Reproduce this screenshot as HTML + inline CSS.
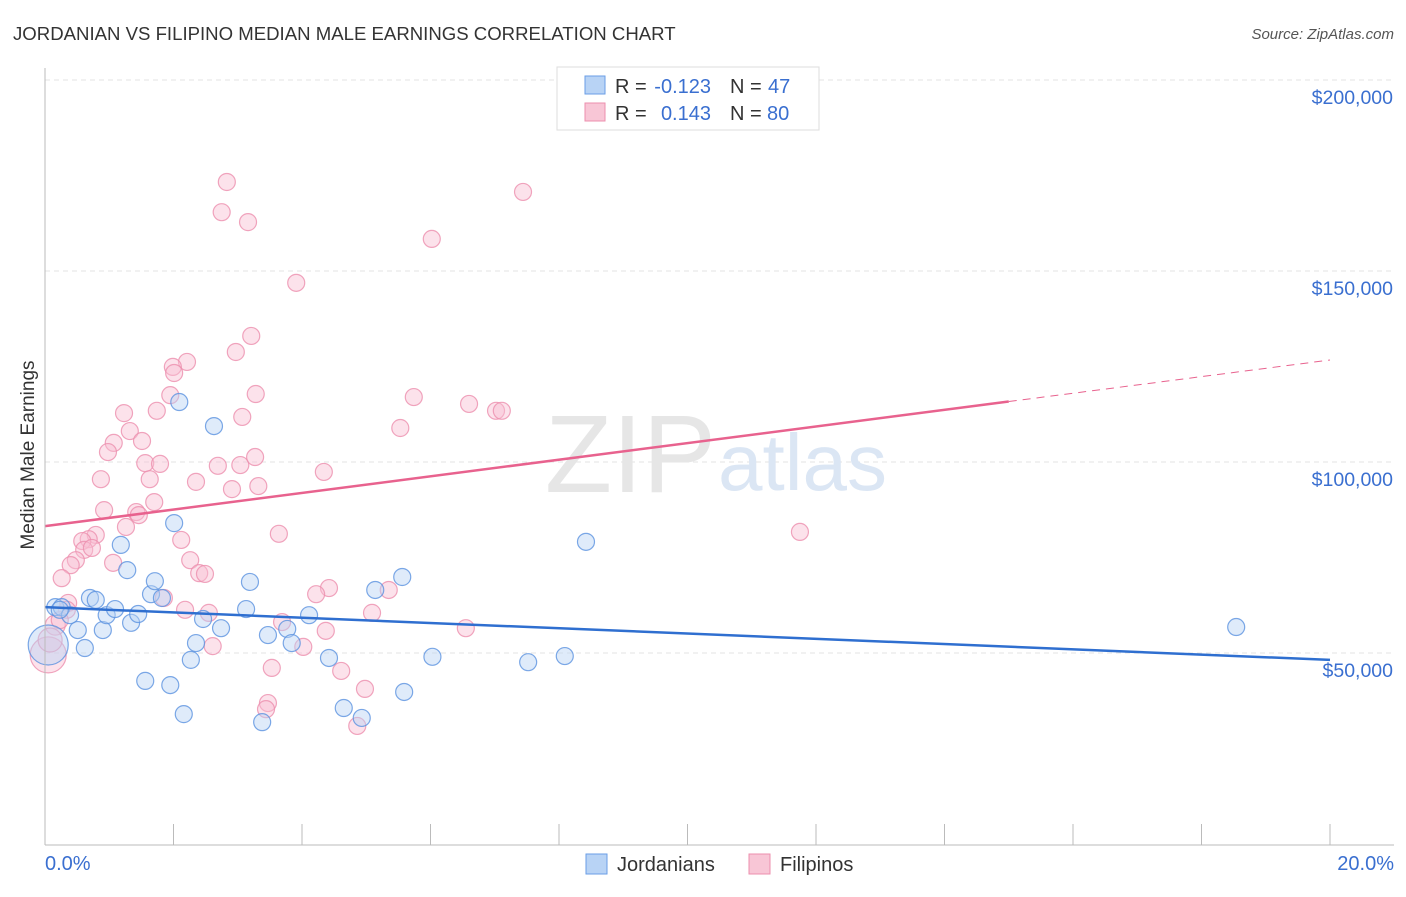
<!DOCTYPE html>
<html><head><meta charset="utf-8">
<style>
body{margin:0;background:#fff;font-family:"Liberation Sans",sans-serif;}
svg text{font-family:"Liberation Sans",sans-serif;}
</style></head>
<body>
<svg id="c" width="1406" height="892">
<text x="13" y="40" font-size="18.6" fill="#333">JORDANIAN VS FILIPINO MEDIAN MALE EARNINGS CORRELATION CHART</text>
<text x="1394" y="39" font-size="15" fill="#555" text-anchor="end" font-style="italic">Source: ZipAtlas.com</text>
<g id="grid"></g>
<text x="716" y="492" font-size="110" fill="#e6e6e6" text-anchor="end" font-family="Liberation Serif">ZIP</text>
<text x="718" y="490" font-size="80" fill="#dbe6f4">atlas</text>
<g id="pts"></g>
<g id="trend"></g>
<g id="axes"></g>
<text x="34" y="455" font-size="19" fill="#333" text-anchor="middle" transform="rotate(-90 34 455)">Median Male Earnings</text>
<text x="45" y="870" font-size="20" fill="#3a6fd0">0.0%</text>
<text x="1394" y="870" font-size="20" fill="#3a6fd0" text-anchor="end">20.0%</text>
<g>
<rect x="557" y="67" width="262" height="63" fill="#fff" stroke="#ddd"/>
<rect x="585" y="76" width="20" height="18" fill="#b8d3f5" stroke="#6a9ee6"/>
<rect x="585" y="103" width="20" height="18" fill="#f8c6d6" stroke="#ec8fae"/>
<text x="615" y="93" font-size="20" fill="#333">R =</text>
<text x="711" y="93" font-size="20" fill="#3a6fd0" text-anchor="end">-0.123</text>
<text x="730" y="93" font-size="20" fill="#333">N =</text>
<text x="768" y="93" font-size="20" fill="#3a6fd0">47</text>
<text x="615" y="120" font-size="20" fill="#333">R =</text>
<text x="711" y="120" font-size="20" fill="#3a6fd0" text-anchor="end">0.143</text>
<text x="730" y="120" font-size="20" fill="#333">N =</text>
<text x="767" y="120" font-size="20" fill="#3a6fd0">80</text>
</g>
<g>
<rect x="586" y="854" width="21" height="20" fill="#b8d3f5" stroke="#6a9ee6"/>
<text x="617" y="871" font-size="20" fill="#333">Jordanians</text>
<rect x="749" y="854" width="21" height="20" fill="#f8c6d6" stroke="#ec8fae"/>
<text x="780" y="871" font-size="20" fill="#333">Filipinos</text>
</g>
</svg>
<script>
const yTicks=[50000,100000,150000,200000];
const yTickLabels=["$50,000","$100,000","$150,000","$200,000"];
const xTicks=[0,2,4,6,8,10,12,14,16,18,20];
const jorX=[0.16,0.26,0.39,0.51,0.62,0.70,0.79,0.90,0.96,1.09,1.18,1.28,1.34,1.45,1.56,1.65,1.71,1.82,1.95,2.01,2.09,2.16,2.27,2.35,2.46,2.63,2.74,3.13,3.19,3.38,3.47,3.77,3.84,4.11,4.42,4.65,4.93,5.14,5.56,5.59,6.03,7.52,8.09,8.42,18.54,0.05,0.23];
const jorY=[62.0,62.0,59.9,56.0,51.3,64.4,63.9,56.0,59.9,61.5,78.3,71.7,57.9,60.2,42.7,65.4,68.8,64.4,41.6,84.0,115.7,34.0,48.2,52.6,58.9,109.4,56.5,61.5,68.6,31.9,54.7,56.3,52.6,59.9,48.7,35.6,33.0,66.5,69.9,39.8,49.0,47.6,49.2,79.1,56.8,52.1,61.3];
const jorR=[8.5,8.5,8.5,8.5,8.5,8.5,8.5,8.5,8.5,8.5,8.5,8.5,8.5,8.5,8.5,8.5,8.5,8.5,8.5,8.5,8.5,8.5,8.5,8.5,8.5,8.5,8.5,8.5,8.5,8.5,8.5,8.5,8.5,8.5,8.5,8.5,8.5,8.5,8.5,8.5,8.5,8.5,8.5,8.5,8.5,20,8.5];
const filX=[2.83,2.75,3.16,7.44,6.02,3.91,3.21,2.97,2.21,1.99,2.01,1.95,3.28,5.74,6.60,7.02,7.11,1.23,1.74,3.07,5.53,1.32,1.07,1.51,0.98,1.56,1.79,0.87,2.69,3.04,4.34,1.63,2.35,3.32,2.91,1.70,0.92,1.42,1.46,1.26,3.64,0.79,2.12,0.68,0.58,11.75,0.61,2.26,0.48,1.06,0.40,2.40,2.49,0.26,1.85,4.42,4.22,5.35,2.18,2.55,5.09,0.36,0.34,3.69,4.37,6.55,2.61,4.02,3.53,4.61,4.98,3.47,3.44,4.86,0.05,0.16,0.23,0.08,0.73,3.27];
const filY=[173.3,165.4,162.8,170.7,158.4,146.9,133.0,128.8,126.2,124.9,123.3,117.5,117.8,117.0,115.2,113.4,113.4,112.8,113.4,111.8,108.9,108.1,105.0,105.5,102.6,99.7,99.5,95.5,99.0,99.2,97.4,95.5,94.8,93.7,92.9,89.5,87.4,86.9,86.1,83.0,81.2,80.9,79.6,79.8,79.3,81.7,77.0,74.3,74.3,73.6,73.0,70.9,70.7,69.6,64.4,67.0,65.4,66.5,61.3,60.5,60.5,63.1,61.3,58.1,55.8,56.5,51.8,51.6,46.1,45.3,40.6,36.9,35.3,30.9,49.5,57.3,58.6,53.4,77.5,101.3];
const filR=[8.5,8.5,8.5,8.5,8.5,8.5,8.5,8.5,8.5,8.5,8.5,8.5,8.5,8.5,8.5,8.5,8.5,8.5,8.5,8.5,8.5,8.5,8.5,8.5,8.5,8.5,8.5,8.5,8.5,8.5,8.5,8.5,8.5,8.5,8.5,8.5,8.5,8.5,8.5,8.5,8.5,8.5,8.5,8.5,8.5,8.5,8.5,8.5,8.5,8.5,8.5,8.5,8.5,8.5,8.5,8.5,8.5,8.5,8.5,8.5,8.5,8.5,8.5,8.5,8.5,8.5,8.5,8.5,8.5,8.5,8.5,8.5,8.5,8.5,18,10,8.5,12,8.5,8.5];
const jorTrend=[62.0,48.2];
const filTrend=[83.2,126.7];
const filSolidEnd=15.0;

const NS="http://www.w3.org/2000/svg";
const X0=45,X1=1330,YB=844,PX50=191;
const sx=v=>X0+(v/20)*(X1-X0);
const sy=k=>YB-k*1000/50000*PX50;
function mk(tag,attrs,parent){const e=document.createElementNS(NS,tag);for(const k in attrs)e.setAttribute(k,attrs[k]);parent.appendChild(e);return e;}
const grid=document.getElementById('grid'),axes=document.getElementById('axes'),pts=document.getElementById('pts'),trend=document.getElementById('trend');
yTicks.forEach((t,i)=>{const y=sy(t/1000);
 const l=mk('line',{x1:X0,x2:1394,y1:y,y2:y,stroke:'#e3e3e3','stroke-dasharray':'5,4'},grid);
 
 
 const tx=mk('text',{x:1393,y:y+24,'font-size':19.5,fill:'#3a6fd0','text-anchor':'end'},axes);
 tx.textContent=yTickLabels[i];
 
 
});
const ya=mk('line',{x1:X0,x2:X0,y1:68,y2:YB+1,stroke:'#bbb'},axes);


const xa=mk('line',{x1:X0,x2:1394,y1:YB+1,y2:YB+1,stroke:'#bbb'},axes);


xTicks.forEach(t=>{const x=sx(t);const l=mk('line',{x1:x,x2:x,y1:YB-20,y2:YB+1,stroke:'#bbb'},axes);
 
 });
function series(xs,ys,rs,fill,stroke,name){xs.forEach((v,i)=>{
 const c=mk('circle',{cx:sx(v),cy:sy(ys[i]),r:rs[i],fill:fill,'fill-opacity':0.45,stroke:stroke,'stroke-width':1.2,'stroke-opacity':0.8},pts);
 
 });}
series(filX,filY,filR,'#f8bfd2','#ec8fae','filipino-point');
series(jorX,jorY,jorR,'#b8d3f5','#5b92e0','jordanian-point');
const fv=p=>filTrend[0]+(filTrend[1]-filTrend[0])*p/20;
const l1=mk('line',{x1:sx(0),y1:sy(jorTrend[0]),x2:sx(20),y2:sy(jorTrend[1]),stroke:'#2f6fd0','stroke-width':2.5},trend);


const l2=mk('line',{x1:sx(0),y1:sy(fv(0)),x2:sx(filSolidEnd),y2:sy(fv(filSolidEnd)),stroke:'#e8628e','stroke-width':2.5},trend);


const l3=mk('line',{x1:sx(filSolidEnd),y1:sy(fv(filSolidEnd)),x2:sx(20),y2:sy(fv(20)),stroke:'#e8628e','stroke-width':1,'stroke-dasharray':'8,6'},trend);


</script>
</body></html>
